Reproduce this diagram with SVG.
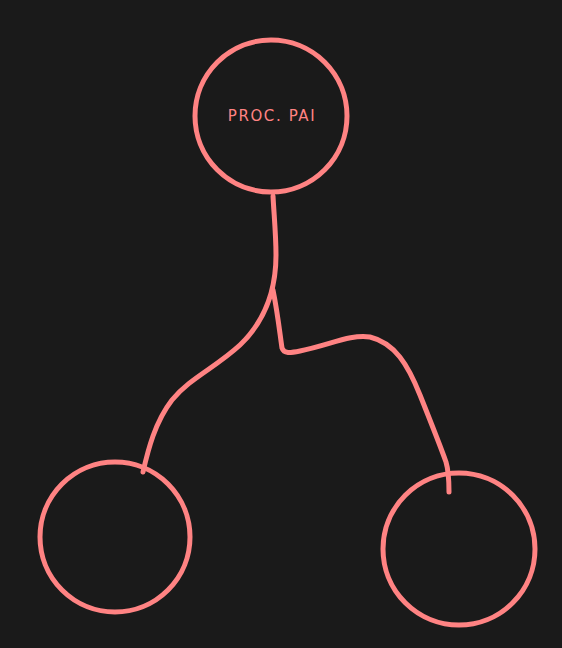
<svg xmlns="http://www.w3.org/2000/svg" width="562" height="648" viewBox="0 0 562 648">
<style>
.n{fill:none;stroke:#ff8383;stroke-width:5;stroke-linecap:round;stroke-linejoin:round}
.c{fill:none;stroke:#ff8383;stroke-width:5;stroke-linecap:round;stroke-linejoin:round}
.t{fill:#ff8383;font-family:"DejaVu Sans",sans-serif;font-size:15px;letter-spacing:1.6px}
</style>
<rect width="562" height="648" fill="#1a1a1a"/>
<g id="connectors">
<path class="c" d="M273,196 C274,215 276,235 276,255 C276,290 266,320 240,345 C215,368 190,378 172,400 C155,422 148,450 143,472"/>
<path class="c" d="M273,290 C278,315 280,335 282,348 C284,354 290,353 300,351 C330,345 350,334 370,337 C395,343 408,365 420,395 C430,420 440,445 446,462 C449,472 449,482 449,492"/>
</g>
<g id="node-parent">
<circle class="n" cx="271" cy="116" r="76"/>
<text class="t" x="272" y="121" text-anchor="middle">PROC. PAI</text>
</g>
<g id="node-left">
<circle class="n" cx="115" cy="537" r="75"/>
</g>
<g id="node-right">
<circle class="n" cx="459" cy="549" r="76"/>
</g>
</svg>
